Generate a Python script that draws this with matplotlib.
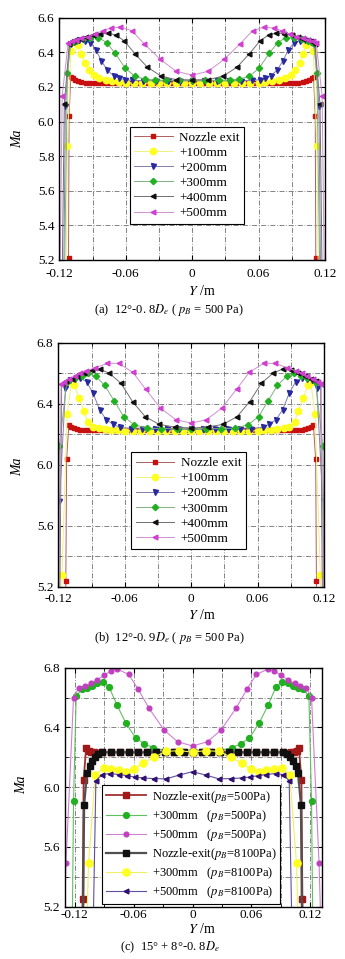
import numpy as np
import matplotlib
matplotlib.use("Agg")
import matplotlib.pyplot as plt
from matplotlib.ticker import MultipleLocator

plt.rcParams['font.family'] = ['Liberation Serif', 'DejaVu Serif']
plt.rcParams['mathtext.fontset'] = 'stix'
plt.rcParams['font.size'] = 9

# profiles are symmetric about Y = 0, only the half Y >= 0 is listed
# ---- (a) 12deg-0.8De, pB = 500 Pa
a_exit_y = [0, 0.004, 0.008, 0.012, 0.016, 0.02, 0.024, 0.028, 0.032, 0.036, 0.04, 0.044, 0.048,
            0.052, 0.056, 0.06, 0.064, 0.068, 0.072, 0.076, 0.08, 0.084, 0.088, 0.092, 0.096,
            0.1, 0.103, 0.106, 0.108, 0.1097, 0.1112, 0.1117, 0.113]
a_exit_ma = [6.225] * 25 + [6.228, 6.232, 6.24, 6.25, 6.257, 6.03, 5.21, 4.8]
a_100_y = [0, 0.0075, 0.015, 0.0225, 0.03, 0.0375, 0.045, 0.0525, 0.06, 0.066, 0.072, 0.078,
           0.084, 0.089, 0.093, 0.097, 0.1, 0.103, 0.106, 0.1095, 0.1127, 0.1145]
a_100_ma = [6.222, 6.222, 6.222, 6.222, 6.222, 6.222, 6.222, 6.223, 6.225, 6.228, 6.232, 6.238,
            6.25, 6.27, 6.3, 6.34, 6.39, 6.44, 6.46, 6.41, 5.86, 4.8]
a_200_y = [0, 0.011, 0.022, 0.033, 0.044, 0.054, 0.061, 0.066, 0.071, 0.0765, 0.082, 0.087,
           0.092, 0.097, 0.102, 0.107, 0.1105, 0.1145, 0.1165]
a_200_ma = [6.235, 6.235, 6.235, 6.235, 6.236, 6.238, 6.242, 6.25, 6.265, 6.295, 6.35, 6.415,
            6.455, 6.465, 6.468, 6.462, 6.45, 6.09, 4.8]
a_300_y = [0, 0.012, 0.024, 0.034, 0.0426, 0.0516, 0.0607, 0.0697, 0.0772, 0.0847, 0.092,
           0.099, 0.105, 0.1095, 0.1127, 0.116]
a_300_ma = [6.238, 6.238, 6.238, 6.24, 6.245, 6.26, 6.31, 6.395, 6.455, 6.485, 6.485, 6.475,
            6.465, 6.455, 6.28, 4.8]
a_400_y = [0, 0.0145, 0.028, 0.0407, 0.0515, 0.0612, 0.069, 0.0756, 0.083, 0.0898, 0.0955,
           0.1003, 0.1045, 0.1078, 0.111, 0.1155, 0.118]
a_400_ma = [6.24, 6.242, 6.262, 6.315, 6.39, 6.465, 6.5, 6.51, 6.508, 6.5, 6.488, 6.477, 6.47,
            6.466, 6.45, 6.10, 4.8]
a_500_y = [0, 0.0145, 0.029, 0.0435, 0.0546, 0.065, 0.0735, 0.081, 0.088, 0.094, 0.1, 0.105,
           0.109, 0.112, 0.1174, 0.12]
a_500_ma = [6.268, 6.29, 6.36, 6.45, 6.525, 6.545, 6.54, 6.525, 6.505, 6.49, 6.48, 6.47, 6.463,
            6.455, 6.15, 4.8]

# ---- (b) 12deg-0.9De, pB = 500 Pa
b_exit_y = a_exit_y[:25] + [0.1, 0.103, 0.106, 0.1085, 0.1105, 0.1125, 0.1132, 0.114]
b_exit_ma = [6.225] * 25 + [6.228, 6.232, 6.24, 6.25, 6.258, 6.035, 5.24, 4.8]
b_100_y = [0, 0.0075, 0.015, 0.0225, 0.03, 0.0375, 0.045, 0.0525, 0.06, 0.066, 0.072, 0.078,
           0.0835, 0.0887, 0.0935, 0.0965, 0.1015, 0.1054, 0.108, 0.112, 0.1167, 0.118]
b_100_ma = [6.222, 6.222, 6.222, 6.222, 6.222, 6.222, 6.222, 6.223, 6.224, 6.226, 6.23, 6.235,
            6.242, 6.25, 6.28, 6.35, 6.44, 6.52, 6.545, 6.33, 5.28, 4.8]
b_200_y = [0, 0.011, 0.022, 0.033, 0.044, 0.054, 0.0645, 0.0705, 0.0766, 0.0826, 0.0887,
           0.0945, 0.1003, 0.105, 0.109, 0.1135, 0.119, 0.121]
b_200_ma = [6.232, 6.232, 6.232, 6.232, 6.233, 6.236, 6.245, 6.265, 6.294, 6.36, 6.47, 6.545,
            6.57, 6.565, 6.555, 6.5, 5.76, 4.8]
b_300_y = [0, 0.013, 0.027, 0.04, 0.0513, 0.061, 0.0696, 0.078, 0.0862, 0.093, 0.099, 0.105,
           0.1124, 0.119, 0.121]
b_300_ma = [6.236, 6.236, 6.237, 6.24, 6.262, 6.316, 6.42, 6.52, 6.58, 6.6, 6.585, 6.57, 6.545,
            6.12, 4.8]
b_400_y = [0, 0.0148, 0.029, 0.0416, 0.0529, 0.0635, 0.074, 0.0826, 0.09, 0.097, 0.103, 0.108,
           0.113, 0.117, 0.119]
b_400_ma = [6.24, 6.247, 6.265, 6.316, 6.414, 6.535, 6.6, 6.628, 6.62, 6.6, 6.58, 6.565, 6.55,
            6.53, 4.8]
b_500_y = [0, 0.0137, 0.0277, 0.041, 0.0526, 0.0655, 0.0756, 0.087, 0.095, 0.1, 0.105, 0.11,
           0.115, 0.1175, 0.12]
b_500_ma = [6.273, 6.295, 6.371, 6.495, 6.606, 6.665, 6.665, 6.635, 6.615, 6.6, 6.58, 6.565,
            6.545, 6.53, 4.8]

# ---- (c) 15deg+8deg-0.8De, pB = 500 Pa and 8100 Pa
c_exit_y = [0, 0.0092, 0.0184, 0.0276, 0.0368, 0.046, 0.0552, 0.0644, 0.0736, 0.0828, 0.092]
c_exit500_y = c_exit_y + [0.0965, 0.1, 0.103, 0.106, 0.1085, 0.111, 0.112, 0.114]
c_exit500_ma = [6.233] * 11 + [6.232, 6.233, 6.236, 6.245, 6.262, 6.05, 5.25, 4.8]
c_300_500_y = [0, 0.014, 0.027, 0.04, 0.049, 0.058, 0.068, 0.077, 0.085, 0.091, 0.097, 0.1025,
               0.108, 0.113, 0.1186, 0.1213, 0.123]
c_300_500_ma = [6.24, 6.24, 6.245, 6.265, 6.29, 6.33, 6.43, 6.55, 6.67, 6.705, 6.695, 6.68,
                6.665, 6.655, 6.61, 5.91, 4.8]
c_500_500_y = [0, 0.0153, 0.029, 0.0445, 0.0555, 0.065, 0.0765, 0.083, 0.09, 0.097, 0.104,
               0.11, 0.116, 0.1213, 0.129, 0.132]
c_500_500_ma = [6.276, 6.305, 6.383, 6.53, 6.657, 6.755, 6.79, 6.78, 6.75, 6.72, 6.695, 6.675,
                6.665, 6.60, 5.49, 4.8]
c_exit8100_y = c_exit_y + [0.0965, 0.0995, 0.1025, 0.105, 0.1077, 0.1105, 0.112]
c_exit8100_ma = [6.234] * 11 + [6.225, 6.2, 6.175, 6.145, 6.093, 5.88, 4.8]
c_300_8100_y = [0, 0.0133, 0.027, 0.0397, 0.0506, 0.0594, 0.0676, 0.0754, 0.0832, 0.0907,
                0.099, 0.106, 0.109]
c_300_8100_ma = [6.235, 6.245, 6.24, 6.2, 6.16, 6.12, 6.104, 6.115, 6.122, 6.127, 6.085, 5.49,
                 4.8]
c_500_8100_y = [0, 0.0133, 0.027, 0.0397, 0.05, 0.0584, 0.067, 0.0754, 0.0846, 0.092, 0.0985,
                0.102]
c_500_8100_ma = [6.104, 6.082, 6.056, 6.058, 6.062, 6.068, 6.078, 6.085, 6.092, 6.085, 6.045,
                 4.8]

labels_ab = ['Nozzle exit', '+100mm', '+200mm', '+300mm', '+400mm', '+500mm']
labels_c = ['Nozzle-exit($p_B$=500Pa)', '+300mm   ($p_B$=500Pa)', '+500mm   ($p_B$=500Pa)',
            'Nozzle-exit($p_B$=8100Pa)', '+300mm   ($p_B$=8100Pa)', '+500mm   ($p_B$=8100Pa)']


def full(y, ma):
    y = np.asarray(y, dtype=float)
    ma = np.asarray(ma, dtype=float)
    return np.concatenate([-y[::-1], y[1:]]), np.concatenate([ma[::-1], ma[1:]])


# marker style, marker color, line color, marker size
sty_ab = [('s', '#c81010', '#b06060', 3.2),
          ('o', '#ffff20', '#f0f080', 4.6),
          ('v', '#2828a0', '#8080b0', 3.6),
          ('D', '#20b020', '#80b080', 3.2),
          ('<', '#101010', '#707070', 3.4),
          ('<', '#d040d0', '#d090d0', 3.4)]
sty_c = [('s', '#a01818', '#a03030', 4.2, 1.3),
         ('o', '#20b020', '#60c060', 4.2, 0.8),
         ('o', '#c040c0', '#d080d0', 3.4, 0.8),
         ('s', '#101010', '#505050', 4.2, 1.6),
         ('o', '#ffff20', '#f0f060', 5.2, 0.8),
         ('<', '#301070', '#6050a0', 3.4, 0.8)]


def style_axes(ax, xlim, ylim, ymaj, xpad):
    ax.set_xlim(*xlim)
    ax.xaxis.set_minor_locator(MultipleLocator(0.03))
    ax.yaxis.set_major_locator(MultipleLocator(ymaj))
    ax.yaxis.set_minor_locator(MultipleLocator(0.2))
    ax.set_xticks([-0.12, -0.06, 0, 0.06, 0.12])
    ax.set_xticklabels(['-0.12', '-0.06', '0', '0.06', '0.12'])
    ax.set_ylim(*ylim)
    ax.set_yticklabels([f'{v:.1f}' for v in ax.get_yticks()])
    ax.set_ylim(*ylim)
    ax.grid(which='both', color='#707070', lw=0.6, ls=(0, (6, 2, 1, 2)))
    ax.tick_params(which='both', direction='in', top=True, right=True, labelsize=9.5)
    ax.tick_params(axis='x', pad=xpad)
    ax.tick_params(axis='y', pad=3.5)
    ax.tick_params(which='major', length=3.5)
    ax.tick_params(which='minor', length=2)
    for s in ax.spines.values():
        s.set_linewidth(1.0)


fig = plt.figure(figsize=(3.45, 9.59), dpi=100)

# ---- panel (a)
ax = fig.add_axes([0.172, 0.7289, 0.770, 0.2527])
series = [(a_exit_y, a_exit_ma), (a_100_y, a_100_ma), (a_200_y, a_200_ma),
          (a_300_y, a_300_ma), (a_400_y, a_400_ma), (a_500_y, a_500_ma)]
for (y, ma), lab, (m, mc, lc, ms) in zip(series, labels_ab, sty_ab):
    yy, mm = full(y, ma)
    ax.plot(yy, mm, color=lc, lw=0.7, marker=m, ms=ms, mfc=mc, mec=mc, label=lab)
style_axes(ax, (-0.12, 0.12), (5.2, 6.6), 0.2, 6.0)
leg = ax.legend(loc='upper left', bbox_to_anchor=(0.265, 0.55), fontsize=9.5, frameon=True,
                fancybox=False, edgecolor='black', framealpha=1, handlelength=2.9,
                labelspacing=0.22, borderpad=0.35, handletextpad=0.5, borderaxespad=0)
leg.get_frame().set_linewidth(0.8)
fig.text(0.05, 0.855, 'Ma', rotation=90, ha='center', va='center', fontsize=10, style='italic')
fig.text(0.585, 0.6966, '$Y$ /m', ha='center', va='center', fontsize=10)
fig.text(0.49, 0.6767, '(a)  12°-0. 8$D_e$ ( $p_B$ = 500 Pa)', ha='center', va='center',
         fontsize=9)

# ---- panel (b)
ax = fig.add_axes([0.169, 0.3882, 0.770, 0.2544])
series = [(b_exit_y, b_exit_ma), (b_100_y, b_100_ma), (b_200_y, b_200_ma),
          (b_300_y, b_300_ma), (b_400_y, b_400_ma), (b_500_y, b_500_ma)]
for (y, ma), lab, (m, mc, lc, ms) in zip(series, labels_ab, sty_ab):
    yy, mm = full(y, ma)
    ax.plot(yy, mm, color=lc, lw=0.7, marker=m, ms=ms, mfc=mc, mec=mc, label=lab)
style_axes(ax, (-0.12, 0.12), (5.2, 6.8), 0.4, 4.5)
leg = ax.legend(loc='upper left', bbox_to_anchor=(0.274, 0.551), fontsize=9.5, frameon=True,
                fancybox=False, edgecolor='black', framealpha=1, handlelength=2.9,
                labelspacing=0.22, borderpad=0.35, handletextpad=0.5, borderaxespad=0)
leg.get_frame().set_linewidth(0.8)
fig.text(0.05, 0.5134, 'Ma', rotation=90, ha='center', va='center', fontsize=10, style='italic')
fig.text(0.585, 0.3585, '$Y$ /m', ha='center', va='center', fontsize=10)
fig.text(0.49, 0.3347, '(b)  12°-0. 9$D_e$ ( $p_B$ = 500 Pa)', ha='center', va='center',
         fontsize=9)

# ---- panel (c)
ax = fig.add_axes([0.1884, 0.0545, 0.745, 0.2492])
series = [(c_exit500_y, c_exit500_ma), (c_300_500_y, c_300_500_ma),
          (c_500_500_y, c_500_500_ma), (c_exit8100_y, c_exit8100_ma),
          (c_300_8100_y, c_300_8100_ma), (c_500_8100_y, c_500_8100_ma)]
for (y, ma), lab, (m, mc, lc, ms, lw) in zip(series, labels_c, sty_c):
    yy, mm = full(y, ma)
    ax.plot(yy, mm, color=lc, lw=lw, marker=m, ms=ms, mfc=mc, mec=mc, label=lab)
style_axes(ax, (-0.13, 0.132), (5.2, 6.8), 0.4, 1.5)
leg = ax.legend(loc='upper left', bbox_to_anchor=(0.143, 0.509), fontsize=9, frameon=True,
                fancybox=False, edgecolor='black', framealpha=1, handlelength=3.2,
                labelspacing=0.25, borderpad=0.3, handletextpad=0.5, borderaxespad=0)
leg.get_frame().set_linewidth(0.8)
fig.text(0.064, 0.1814, 'Ma', rotation=90, ha='center', va='center', fontsize=10,
         style='italic')
fig.text(0.585, 0.0315, '$Y$ /m', ha='center', va='center', fontsize=10)
fig.text(0.493, 0.0125, '(c)  15° + 8°-0. 8$D_e$', ha='center', va='center', fontsize=9)

fig.savefig('out.png', dpi=100)
